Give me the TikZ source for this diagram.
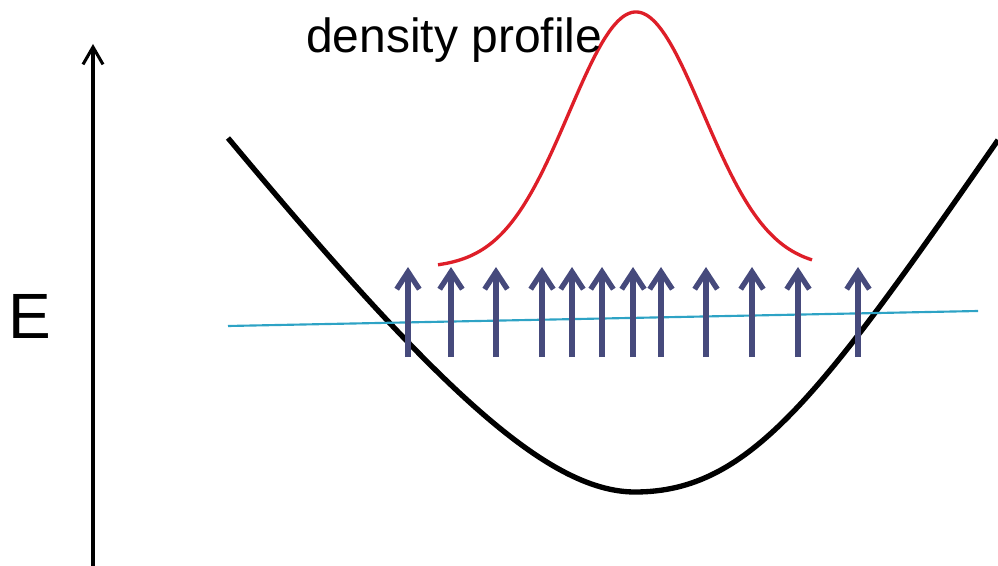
\documentclass[tikz,border=0pt]{standalone}
\usepackage{fontspec}
\setmainfont{Liberation Sans}
\usetikzlibrary{arrows.meta, positioning, calc}

\definecolor{spinblue}{RGB}{70,74,124}
\definecolor{profred}{RGB}{222,30,40}
\definecolor{levelcyan}{RGB}{46,163,197}

\begin{document}
\begin{tikzpicture}[
        x=0.75pt, y=-0.75pt,
        axis/.style={line width=2.3pt, draw=black, -{Straight Barb[length=13pt, width=15pt]}},
        well/.style={line width=4pt, draw=black},
        profile/.style={line width=2.5pt, draw=profred},
        level/.style={line width=1.6pt, draw=levelcyan},
        spin/.style={line width=4pt, draw=spinblue, -{Straight Barb[length=13pt, width=17pt]}},
        txt/.style={inner sep=0pt, anchor=base west}
    ]
        \useasboundingbox (0,0) rectangle (998,566);
        % energy axis
        \coordinate (axbot) at (93,566);
        \coordinate (axtop) at (93,44);
        \draw[axis] (axbot) -- (axtop);
        \node[txt, font=\fontsize{48}{52}\selectfont] (elabel) at (8,338) {E};
        % trap potential
        \coordinate (wleft) at (228,138);
        \coordinate (wmin) at (635,492);
        \coordinate (wright) at (998,140);
        \draw[well] (wleft) .. controls (430,380) and (545,492) .. (wmin)
            .. controls (750,492) and (820,396) .. (wright);
        % density profile
        \draw[profile] plot[domain=438:812, samples=80, smooth] (\x, {268-256*exp(-0.5*((\x-636)/67)^2)});
        \node[txt, font=\fontsize{36}{40}\selectfont] (dlabel) at (306,53) {density profile};
        % fermi level
        \coordinate (lleft) at (228,326);
        \coordinate (lright) at (978,311);
        \draw[level] (lleft) -- (lright);
        % spins
        \foreach \sx in {408,451,496,542,572,602,633,661,706,752,798,858}
            \draw[spin] (\sx,357) -- (\sx,267);
    \end{tikzpicture}
\end{document}
